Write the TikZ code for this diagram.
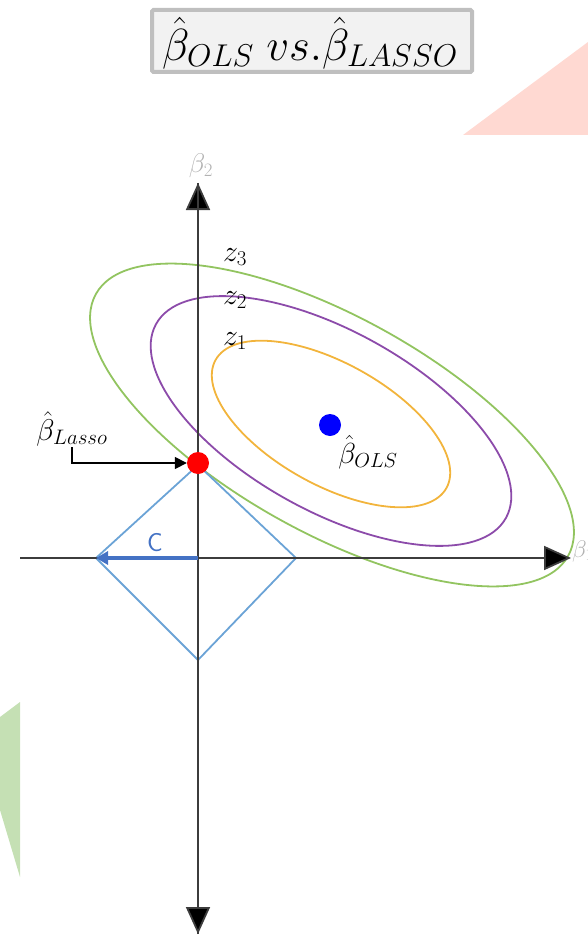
\RequirePackage{fix-cm}
\documentclass[tikz,border=0pt]{standalone}
\usetikzlibrary{arrows.meta}
\definecolor{axisgray}{RGB}{60,60,60}
\definecolor{ellgreen}{RGB}{146,196,96}
\definecolor{ellpurple}{RGB}{140,75,170}
\definecolor{ellorange}{RGB}{242,180,60}
\definecolor{diamblue}{RGB}{107,163,214}
\definecolor{cblue}{RGB}{68,114,196}
\definecolor{pinkbg}{RGB}{255,217,210}
\definecolor{greenbg}{RGB}{197,224,180}
\definecolor{boxborder}{RGB}{191,191,191}
\definecolor{boxfill}{RGB}{242,242,242}
\tikzset{
  axisline/.style={draw=axisgray,line width=1.8pt,-{Triangle[width=24pt,length=27pt,fill=black]}},
  ell/.style={line width=1.8pt},
  dot/.style={circle,inner sep=0pt,minimum size=22pt},
  mathlbl/.style={inner sep=0pt},
}
\begin{document}
\begin{tikzpicture}[x=1pt,y=-1pt]
\useasboundingbox (0,0) rectangle (588,936);
% background shapes
\fill[pinkbg] (463,135) -- (588,135) -- (588,42) -- cycle;
\fill[greenbg] (20,702) -- (20,877) -- (0,810) -- (0,717) -- cycle;
% title
\draw[boxborder,line width=4pt,fill=boxfill,rounded corners=1.5pt] (152,10) rectangle (472,72);
\node[mathlbl,font=\fontsize{45}{52}\selectfont] (title) at (310,43) {$\hat{\beta}_{OLS}\; vs.\hat{\beta}_{LASSO}$};
% coordinates
\coordinate (O) at (198,558);
\coordinate (ytop) at (198,183);
\coordinate (ybot) at (198,934);
\coordinate (xleft) at (20,558);
\coordinate (xright) at (571,558);
\coordinate (dT) at (198,465);
\coordinate (dR) at (296,558);
\coordinate (dB) at (198,660);
\coordinate (dL) at (96,558);
\coordinate (ctr) at (332,425);
% ellipses
\draw[ell,ellgreen] (ctr) ellipse [x radius=270,y radius=108,rotate=-29];
\draw[ell,ellpurple] (331,421) ellipse [x radius=200,y radius=90,rotate=-29];
\draw[ell,ellorange] (331,424) ellipse [x radius=132,y radius=61,rotate=-29];
% diamond
\draw[diamblue,line width=1.8pt,line join=miter] (dT) -- (dR) -- (dB) -- (dL) -- cycle;
% axes
\draw[axisline] (ybot) -- (ytop);
\draw[axisline] (ytop) -- (ybot);
\draw[axisline] (xleft) -- (xright);
\node[text=gray!60,font=\fontsize{27}{30}\selectfont,inner sep=0pt] (b2) at (201,166) {$\beta_2$};
\node[text=gray!60,font=\fontsize{24}{28}\selectfont,anchor=west,inner sep=0pt] (b1) at (572,551) {$\beta_1$};
% C arrow
\draw[cblue,line width=4pt,-{Triangle[width=13pt,length=12pt]}] (O) -- (dL);
\node[text=cblue,font=\sffamily\fontsize{26}{28}\selectfont,inner sep=0pt] (clbl) at (155,543) {C};
% dots
\node[dot,fill=red] (lassodot) at (198,463) {};
\node[dot,fill=blue] (olsdot) at (330,425) {};
% labels
\node[mathlbl,font=\fontsize{30}{34}\selectfont] (lassolbl) at (72,429) {$\hat{\beta}_{Lasso}$};
\node[mathlbl,font=\fontsize{29}{34}\selectfont] (olslbl) at (368,452) {$\hat{\beta}_{OLS}$};
\node[mathlbl,font=\fontsize{30}{34}\selectfont] (z3) at (235,257) {$z_3$};
\node[mathlbl,font=\fontsize{30}{34}\selectfont] (z2) at (235,300) {$z_2$};
\node[mathlbl,font=\fontsize{30}{34}\selectfont] (z1) at (235,341) {$z_1$};
% elbow arrow
\coordinate (elb) at (72,447);
\draw[black,line width=1.6pt,-{Triangle[width=12pt,length=12pt]}] (elb) |- (lassodot.west);
\end{tikzpicture}
\end{document}
